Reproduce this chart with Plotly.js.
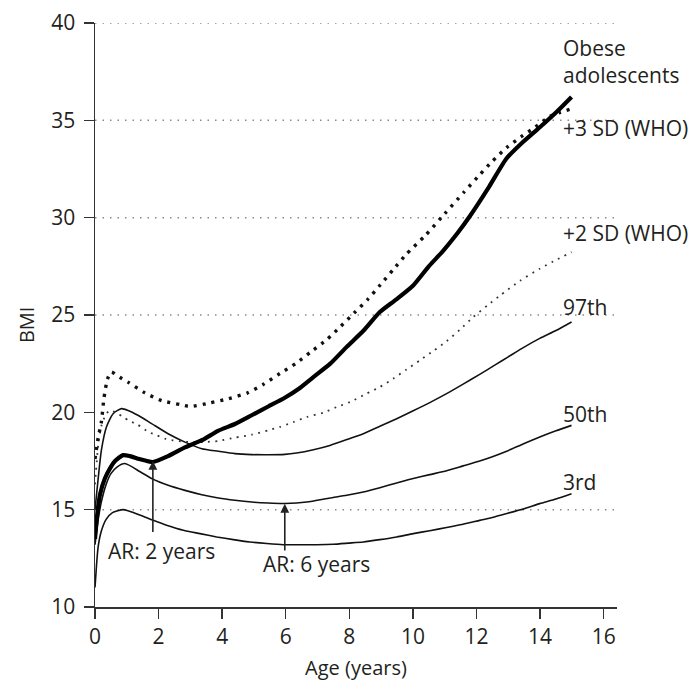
<!DOCTYPE html>
<html>
<head>
<meta charset="utf-8">
<script src="https://cdn.plot.ly/plotly-3.0.1.min.js"></script>
<style>html,body{margin:0;padding:0;background:#fff;}#chart{width:698px;height:682px;}</style>
</head>
<body>
<div id="chart"></div>
<script>
// ---- Data ----
const obeseAge = [0, 0.08, 0.16, 0.31, 0.5, 0.63, 0.88, 1.1, 1.4, 1.82, 2.3, 2.83, 3.4, 3.87, 4.4, 4.93, 5.45, 5.97, 6.4, 6.86, 7.4, 7.91, 8.45, 8.96, 9.48, 10.0, 10.5, 10.95, 11.4, 11.8, 12.4, 12.95, 13.47, 14.1, 14.5, 14.99];
const obeseBMI = [13.5, 14.9, 15.8, 16.6, 17.2, 17.5, 17.8, 17.75, 17.6, 17.45, 17.75, 18.2, 18.6, 19.05, 19.4, 19.85, 20.3, 20.75, 21.2, 21.8, 22.5, 23.35, 24.2, 25.15, 25.8, 26.5, 27.5, 28.3, 29.2, 30.1, 31.6, 33.05, 33.9, 34.8, 35.4, 36.2];

const sd3Age = [0, 0.1, 0.2, 0.28, 0.39, 0.51, 0.78, 1.04, 1.57, 2.1, 2.67, 3.0, 3.6, 4.2, 4.8, 5.3, 5.82, 6.31, 6.81, 7.29, 7.73, 8.15, 8.58, 8.98, 9.38, 9.78, 10.4, 11.0, 11.6, 12.1, 12.5, 12.95, 13.4, 13.85, 14.3, 14.62, 15.0];
const sd3BMI = [17.6, 18.7, 19.5, 20.7, 21.7, 22.07, 21.8, 21.55, 21.0, 20.6, 20.4, 20.3, 20.48, 20.7, 21.0, 21.44, 22.0, 22.5, 23.13, 23.73, 24.42, 25.1, 25.8, 26.56, 27.33, 28.1, 29.1, 30.2, 31.3, 32.2, 32.9, 33.6, 34.15, 34.65, 35.2, 35.4, 35.6];

const sd2Age = [0, 0.1, 0.2, 0.33, 0.46, 0.7, 0.88, 1.09, 1.33, 1.68, 1.94, 2.2, 2.46, 2.73, 3.0, 3.4, 3.88, 4.4, 4.93, 5.45, 5.82, 6.24, 6.66, 7.18, 7.6, 8.02, 8.54, 8.96, 9.38, 9.8, 10.22, 10.64, 11.06, 11.48, 11.9, 12.35, 12.74, 13.36, 13.99, 14.52, 14.99];
const sd2BMI = [16.3, 18.3, 19.3, 19.85, 20.1, 19.95, 19.76, 19.55, 19.38, 19.0, 18.82, 18.65, 18.56, 18.51, 18.47, 18.47, 18.53, 18.7, 18.85, 19.08, 19.25, 19.5, 19.76, 19.98, 20.27, 20.53, 20.96, 21.3, 21.73, 22.2, 22.67, 23.15, 23.65, 24.25, 24.9, 25.5, 26.0, 26.75, 27.38, 27.84, 28.23];

const p97Age = [0, 0.1, 0.2, 0.36, 0.57, 0.83, 1.04, 1.35, 1.78, 2.3, 2.83, 3.36, 3.88, 4.4, 4.93, 5.45, 5.97, 6.34, 6.87, 7.39, 7.92, 8.44, 8.96, 9.49, 10.01, 10.53, 11.06, 11.58, 12.1, 12.6, 13.0, 13.5, 13.99, 14.5, 14.99];
const p97BMI = [15.0, 16.6, 18.05, 19.25, 19.93, 20.19, 20.1, 19.85, 19.42, 18.9, 18.47, 18.13, 18.0, 17.88, 17.83, 17.82, 17.84, 17.91, 18.08, 18.3, 18.6, 18.9, 19.28, 19.67, 20.08, 20.5, 20.96, 21.45, 21.95, 22.45, 22.85, 23.35, 23.8, 24.2, 24.64];

const p50Age = [0, 0.1, 0.2, 0.35, 0.5, 0.7, 0.94, 1.42, 1.78, 2.3, 2.83, 3.36, 3.88, 4.4, 4.93, 5.45, 5.97, 6.66, 7.39, 7.92, 8.44, 8.96, 9.49, 10.01, 10.53, 11.06, 11.58, 12.1, 12.5, 12.95, 13.5, 13.99, 14.5, 14.99];
const p50BMI = [13.2, 14.5, 15.4, 16.3, 16.85, 17.2, 17.37, 16.95, 16.6, 16.25, 15.99, 15.77, 15.6, 15.48, 15.39, 15.34, 15.32, 15.39, 15.6, 15.74, 15.91, 16.13, 16.37, 16.6, 16.8, 17.0, 17.25, 17.5, 17.72, 18.0, 18.4, 18.73, 19.05, 19.33];

const p3Age = [0, 0.05, 0.1, 0.2, 0.35, 0.55, 0.89, 1.2, 1.45, 1.83, 2.25, 2.78, 3.3, 3.83, 4.35, 4.87, 5.4, 5.92, 6.45, 6.97, 7.49, 7.97, 8.44, 8.96, 9.49, 10.01, 10.53, 11.06, 11.58, 12.1, 12.5, 12.95, 13.5, 13.99, 14.5, 14.99];
const p3BMI = [11.0, 12.2, 13.1, 13.9, 14.5, 14.85, 15.0, 14.85, 14.7, 14.45, 14.2, 13.94, 13.77, 13.6, 13.46, 13.34, 13.26, 13.2, 13.2, 13.2, 13.22, 13.28, 13.34, 13.46, 13.6, 13.77, 13.92, 14.08, 14.25, 14.45, 14.6, 14.8, 15.05, 15.31, 15.55, 15.82];

const xTicks = [0, 2, 4, 6, 8, 10, 12, 14, 16];
const yTicks = [10, 15, 20, 25, 30, 35, 40];
const gridBMI = [15, 25, 30, 35, 40];

const seriesLabels = ['Obese<br>adolescents', '+3 SD (WHO)', '+2 SD (WHO)', '97th', '50th', '3rd'];
const arLabels = ['AR: 2 years', 'AR: 6 years'];
const arAge = [1.82, 5.97];
const arTipBMI = [17.5, 15.3];
const arTailBMI = [13.77, 12.82];

// ---- Styling / layout ----
const ink = '#231f20';
const fontFam = '"Open Sans", "Liberation Sans", sans-serif';
const spl = {shape: 'spline', smoothing: 0.6};

const traces = [
  {x: p3Age, y: p3BMI, mode: 'lines', line: Object.assign({color: '#111', width: 1.6}, spl), name: '3rd'},
  {x: p50Age, y: p50BMI, mode: 'lines', line: Object.assign({color: '#111', width: 1.6}, spl), name: '50th'},
  {x: p97Age, y: p97BMI, mode: 'lines', line: Object.assign({color: '#111', width: 1.6}, spl), name: '97th'},
  {x: sd2Age, y: sd2BMI, mode: 'lines', line: Object.assign({color: '#333', width: 1.8, dash: '1.8px,5.5px'}, spl), name: '+2 SD (WHO)'},
  {x: sd3Age, y: sd3BMI, mode: 'lines', line: Object.assign({color: '#111', width: 3.4, dash: '3px,6px'}, spl), name: '+3 SD (WHO)'},
  {x: obeseAge, y: obeseBMI, mode: 'lines', line: Object.assign({color: '#000', width: 4.2}, spl), name: 'Obese adolescents'}
];

const labelPos = [38.0, 34.6, 29.2, 25.4, 19.9, 16.4];
const annotations = seriesLabels.map((t, i) => ({
  text: t, x: 14.65, y: labelPos[i], xref: 'x', yref: 'y',
  xanchor: 'left', yanchor: 'middle', align: 'left', showarrow: false,
  font: {family: fontFam, size: 21, color: ink}
}));
const arTextPos = [{x: 2.1, y: 12.86}, {x: 6.98, y: 12.19}];
arLabels.forEach((t, i) => {
  annotations.push({
    text: t, x: arTextPos[i].x, y: arTextPos[i].y, xref: 'x', yref: 'y',
    xanchor: 'center', yanchor: 'middle', showarrow: false,
    font: {family: fontFam, size: 21, color: ink}
  });
  annotations.push({
    text: '', x: arAge[i], y: arTipBMI[i], ax: arAge[i], ay: arTailBMI[i],
    xref: 'x', yref: 'y', axref: 'x', ayref: 'y',
    showarrow: true, arrowhead: 2, arrowsize: 1.1, arrowwidth: 1.6, arrowcolor: '#222', standoff: 0, startstandoff: 0
  });
});
// y-axis title placed as a rotated annotation (to match the reference's vertical position)
annotations.push({
  text: 'BMI', xref: 'paper', yref: 'paper', x: -0.13, y: 0.483,
  xanchor: 'center', yanchor: 'middle', textangle: -90, showarrow: false,
  font: {family: fontFam, size: 20, color: ink}
});

const shapes = gridBMI.map(v => ({
  type: 'line', xref: 'paper', x0: 0, x1: 1, yref: 'y', y0: v, y1: v,
  line: {color: '#8a8a8a', width: 1.5, dash: '1.5px,6px'}, layer: 'below'
}));

const layout = {
  width: 698, height: 682,
  margin: {l: 95, r: 81, t: 23, b: 75, pad: 0},
  paper_bgcolor: '#fff', plot_bgcolor: '#fff',
  showlegend: false,
  font: {family: fontFam, size: 21, color: ink},
  xaxis: {
    range: [0, 16.42], tickvals: xTicks, ticktext: xTicks.map(String),
    showgrid: false, zeroline: false, showline: true, linecolor: '#333', linewidth: 1.5,
    ticks: 'outside', ticklen: 10, tickwidth: 1.5, tickcolor: '#333',
    tickfont: {family: fontFam, size: 21, color: ink},
    title: {text: 'Age (years)', font: {family: fontFam, size: 20, color: ink}, standoff: 12}
  },
  yaxis: {
    range: [10, 40], tickvals: yTicks, ticktext: yTicks.map(String),
    showgrid: false, zeroline: false, showline: true, linecolor: '#333', linewidth: 1.5,
    ticks: 'outside', ticklen: 10, tickwidth: 1.5, tickcolor: '#333',
    tickfont: {family: fontFam, size: 21, color: ink}, ticklabelstandoff: 4
  },
  annotations: annotations,
  shapes: shapes
};

Plotly.newPlot('chart', traces, layout, {displayModeBar: false, staticPlot: true});
</script>
</body>
</html>
